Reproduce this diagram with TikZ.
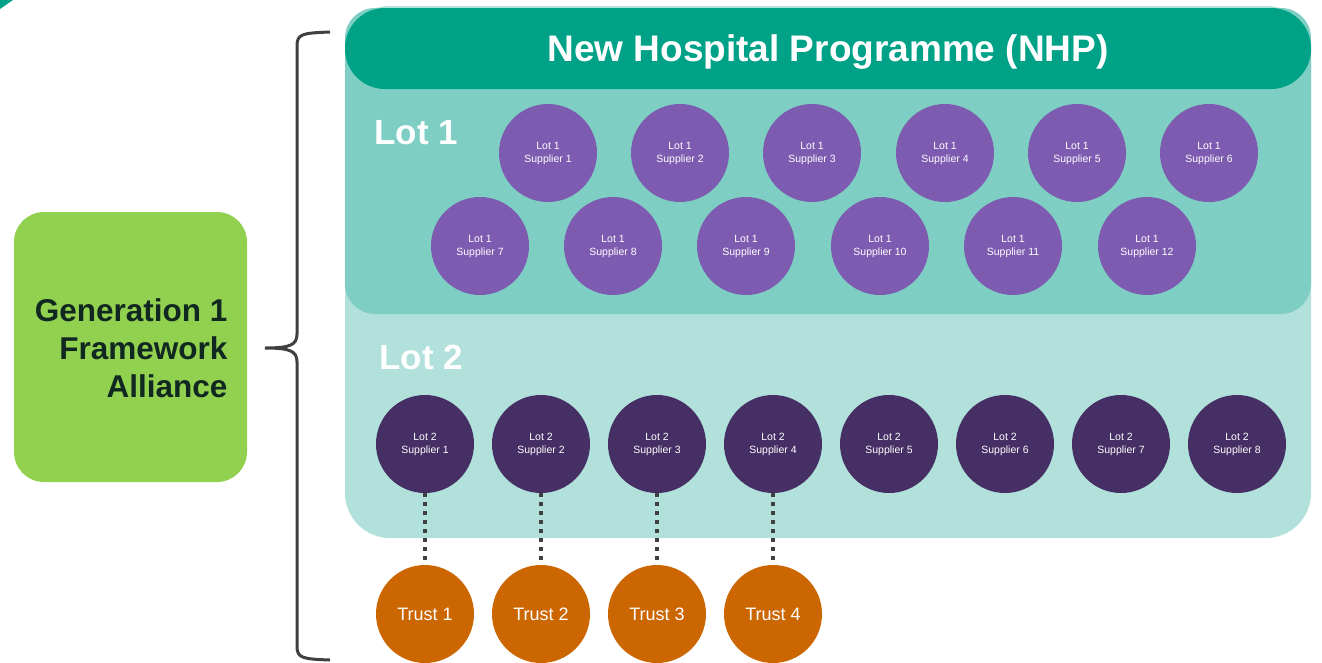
\documentclass[tikz,border=0pt]{standalone}
\usepackage{fontspec}
\setmainfont{Liberation Sans}

\definecolor{nhpvert}{HTML}{00A287}
\definecolor{lotun}{HTML}{7ECEC3}
\definecolor{lotdeux}{HTML}{B2E1DB}
\definecolor{violet}{HTML}{7D5BB0}
\definecolor{violetfonce}{HTML}{452F64}
\definecolor{orange}{HTML}{CC6600}
\definecolor{vertclair}{HTML}{92D050}
\definecolor{gris}{HTML}{404040}
\definecolor{textefonce}{HTML}{102820}

\tikzset{
    rond/.style={circle, minimum size=98pt, inner sep=0pt, text=white, align=center},
    fournisseur/.style={rond, font=\fontsize{10.5}{13}\selectfont},
    fournun/.style={fournisseur, fill=violet},
    fourndeux/.style={fournisseur, fill=violetfonce},
    trust/.style={rond, fill=orange, font=\fontsize{18}{20}\selectfont},
    pointille/.style={gris, line width=4pt, dash pattern=on 4pt off 5pt},
    titre/.style={text=white, font=\bfseries\fontsize{35}{38}\selectfont},
}

\begin{document}
\begin{tikzpicture}[x=1pt,y=-1pt]
    \useasboundingbox (0,0) rectangle (1322,662);

    % Petit coin en haut à gauche
    \fill[nhpvert] (0,0) -- (13,0) -- (0,9) -- cycle;

    % Les panneaux
    \fill[lotdeux, rounded corners=45pt] (345,6) rectangle (1311,538);
    \fill[lotun, rounded corners=30pt] (345,8) rectangle (1311,314);
    \fill[nhpvert, rounded corners=40pt] (345,8) rectangle (1311,89);

    % Titres
    \node[titre, font=\bfseries\fontsize{37}{40}\selectfont] (nhp) at (828,52) {New Hospital Programme (NHP)};
    \node[titre, anchor=west] (lot1) at (371,133) {Lot 1};
    \node[titre, anchor=west] (lot2) at (376,357) {Lot 2};

    % Bloc de gauche
    \fill[vertclair, rounded corners=30pt] (14,212) rectangle (247,482);
    \node[anchor=east, align=right, text=textefonce,
          font=\bfseries\fontsize{31.5}{38}\selectfont] (gen) at (231,348)
        {Generation 1\\Framework\\Alliance};

    % Accolade
    \draw[gris, line width=3pt] (330,32) .. controls (302,33) and (297,34) .. (297,46)
        -- (297,334) .. controls (297,345) and (290,348) .. (265,348)
        .. controls (290,348) and (297,351) .. (297,362)
        -- (297,646) .. controls (297,658) and (302,659) .. (330,660);

    % Fournisseurs du lot 1
    \foreach \i/\x in {1/548,2/680,3/812,4/945,5/1077,6/1209} {
        \node[fournun] (l1s\i) at (\x,153) {Lot 1\\Supplier \i};
    }
    \foreach \i/\x in {7/480,8/613,9/746,10/880,11/1013,12/1147} {
        \node[fournun] (l1s\i) at (\x,246) {Lot 1\\Supplier \i};
    }

    % Fournisseurs du lot 2
    \foreach \i/\x in {1/425,2/541,3/657,4/773,5/889,6/1005,7/1121,8/1237} {
        \node[fourndeux] (l2s\i) at (\x,444) {Lot 2\\Supplier \i};
    }

    % Trusts et liaisons
    \foreach \i/\x in {1/425,2/541,3/657,4/773} {
        \node[trust] (t\i) at (\x,614) {Trust \i};
        \draw[pointille] (l2s\i) -- (t\i);
    }

\end{tikzpicture}
\end{document}
